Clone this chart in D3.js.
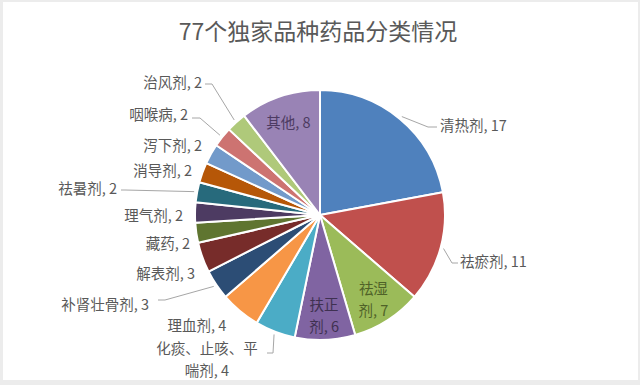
<!DOCTYPE html>
<html>
<head>
<meta charset="utf-8">
<script src="https://cdn.jsdelivr.net/npm/d3@7"></script>
<style>
  html, body { margin: 0; padding: 0; background: #ececec; }
  svg { display: block; }
  text { font-family: "Noto Sans CJK SC", "Noto Sans", sans-serif; }
</style>
</head>
<body>
<div id="chart"></div>
<script>
// ── Données ────────────────────────────────────────────────
const title = '77个独家品种药品分类情况';

const categories = [
  '清热剂', '祛瘀剂', '祛湿剂', '扶正剂', '化痰、止咳、平喘剂', '理血剂',
  '补肾壮骨剂', '解表剂', '藏药', '理气剂', '祛暑剂', '消导剂',
  '泻下剂', '咽喉病', '治风剂', '其他'
];
const values = [17, 11, 7, 6, 4, 4, 3, 3, 2, 2, 2, 2, 2, 2, 2, 8];

// Palette Office 2010 (6 couleurs, puis variantes sombres, puis claires)
const colors = [
  '#4F81BD', '#C0504D', '#9BBB59', '#8064A2', '#4BACC6', '#F79646',
  '#2C4D75', '#772C2A', '#5F7530', '#4D3B62', '#276A7C', '#B65708',
  '#729ACA', '#CD7371', '#AFC97A', '#9983B5'
];

// ── Placement des étiquettes (relatif au centre du camembert) ──
// inside : étiquette dans la part ; sinon point d'ancrage + ligne de rappel
const labelLayout = {
  '清热剂':   { dx: 120, dy: -91, anchor: 'start', leader: [[108, -88], [117, -88]] },
  '祛瘀剂':   { dx: 140, dy: 45,  anchor: 'start', leader: [[132, 48], [138, 48]] },
  '祛湿剂':   { inside: true, lines: ['祛湿', '剂, 7'], k: 0.79, color: '#4F6228' },
  '扶正剂':   { inside: true, lines: ['扶正', '剂, 6'], k: 0.80, color: '#3F3151' },
  '化痰、止咳、平喘剂': { dx: -113, dy: 143, anchor: 'middle', lines: ['化痰、止咳、平', '喘剂, 4'],
                leader: [[-47, 138], [-53, 138]] },
  '理血剂':   { dx: -123, dy: 109, anchor: 'middle' },
  '补肾壮骨剂': { dx: -171, dy: 88,  anchor: 'end', leader: [[-155, 85], [-162, 85]] },
  '解表剂':   { dx: -125, dy: 57,  anchor: 'end' },
  '藏药':     { dx: -130, dy: 27,  anchor: 'end' },
  '理气剂':   { dx: -137, dy: -1,  anchor: 'end' },
  '祛暑剂':   { dx: -203, dy: -28, anchor: 'end', leader: [[-195, -25], [-199, -25]] },
  '消导剂':   { dx: -128, dy: -46, anchor: 'end' },
  '泻下剂':   { dx: -118, dy: -71, anchor: 'end' },
  '咽喉病':   { dx: -132, dy: -102, anchor: 'end', leader: [[-120, -97], [-128, -97]] },
  '治风剂':   { dx: -118, dy: -134, anchor: 'end', leader: [[-108, -131], [-115, -131]] },
  '其他':     { inside: true, lines: ['其他, 8'], k: 0.79, color: '#4D3B62' }
};

// ── Construction ───────────────────────────────────────────
const width  = 640;
const height = 385;
const cx = 320, cy = 215, radius = 125;

const svg = d3.select('#chart')
  .append('svg')
  .attr('width', width)
  .attr('height', height);

svg.append('rect')
  .attr('x', 3).attr('y', 2)
  .attr('width', 635).attr('height', 378)
  .attr('fill', '#ffffff');

svg.append('text')
  .attr('x', 318)
  .attr('y', 30)
  .attr('text-anchor', 'middle')
  .attr('dominant-baseline', 'central')
  .attr('font-size', 23)
  .attr('fill', '#595959')
  .text(title);

const data = categories.map((name, i) => ({ name, value: values[i], color: colors[i] }));

const pie = d3.pie()
  .value(d => d.value)
  .sort(null);

const arcs = pie(data);

const arc = d3.arc()
  .innerRadius(0)
  .outerRadius(radius);

const g = svg.append('g')
  .attr('transform', `translate(${cx},${cy})`);

g.selectAll('path.slice')
  .data(arcs)
  .join('path')
  .attr('class', 'slice')
  .attr('d', arc)
  .attr('fill', d => d.data.color)
  .attr('stroke', '#ffffff')
  .attr('stroke-width', 2)
  .attr('stroke-linejoin', 'round');

// ── Étiquettes ────────────────────────────────────────────
const fontSize = 14.5;
const lineGap  = 22;

function edgePoint(d, r) {
  const a = (d.startAngle + d.endAngle) / 2;
  return [r * Math.sin(a), -r * Math.cos(a)];
}

arcs.forEach(d => {
  const lay = labelLayout[d.data.name];
  if (!lay) return;

  let x, y, anchor, color, lines;
  if (lay.inside) {
    [x, y] = edgePoint(d, radius * lay.k);
    anchor = 'middle';
    color  = lay.color;
    lines  = lay.lines;
  } else {
    x = lay.dx; y = lay.dy;
    anchor = lay.anchor;
    color  = '#595959';
    lines  = lay.lines || [`${d.data.name}, ${d.data.value}`];
  }

  if (lay.leader) {
    const pts = [edgePoint(d, radius + 3), ...lay.leader];
    g.append('path')
      .attr('d', d3.line()(pts))
      .attr('fill', 'none')
      .attr('stroke', '#a6a6a6')
      .attr('stroke-width', 1);
  }

  const y0 = y - (lines.length - 1) * lineGap / 2;
  const t = g.append('text')
    .attr('text-anchor', anchor)
    .attr('font-size', fontSize)
    .attr('fill', color);
  lines.forEach((ln, i) => {
    t.append('tspan')
      .attr('x', x)
      .attr('y', y0 + i * lineGap)
      .attr('dominant-baseline', 'central')
      .text(ln);
  });
});
</script>
</body>
</html>
